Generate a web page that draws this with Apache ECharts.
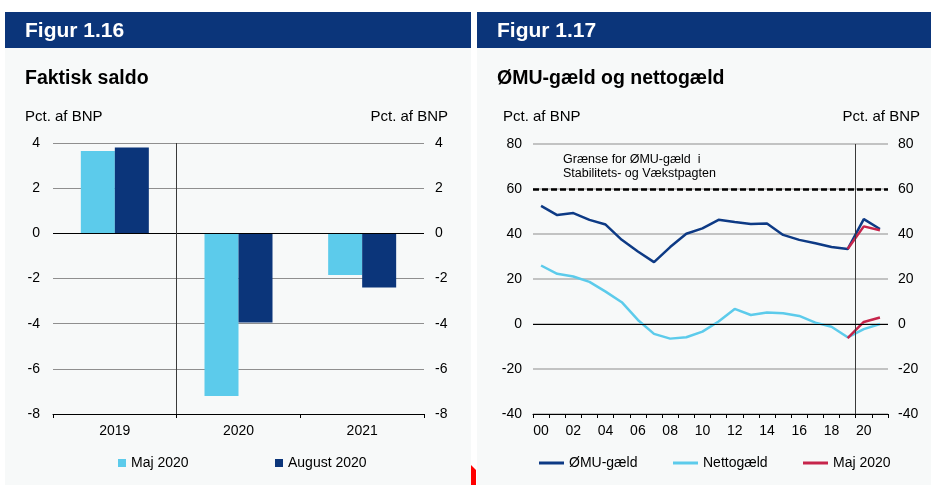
<!DOCTYPE html>
<html><head><meta charset="utf-8">
<script src="https://cdn.jsdelivr.net/npm/echarts@6/dist/echarts.min.js"></script>
<style>html,body{margin:0;padding:0;background:#fff}#c{width:931px;height:485px}</style>
</head><body><div id="c"></div>
<script>
// ---- Figur 1.16 data ----
const saldoYears = ['2019', '2020', '2021'];
const saldoMaj = [3.65, -7.2, -1.84];
const saldoAug = [3.8, -3.95, -2.4];
const saldoTicks = { min: -8, max: 4, interval: 2 };

// ---- Figur 1.17 data ----
const years = ['00','01','02','03','04','05','06','07','08','09','10','11','12','13','14','15','16','17','18','19','20','21'];
const omuDebt = [52.5,48.4,49.3,46.3,44.2,37.4,32.2,27.5,34.2,40.1,42.5,46.3,45.3,44.4,44.7,39.6,37.4,35.9,34.2,33.3,46.6,42.2];
const netDebt = [26.0,22.3,21.1,18.7,14.4,9.7,1.8,-4.4,-6.5,-5.9,-3.4,1.1,6.7,4.0,5.1,4.8,3.6,0.6,-1.2,-5.9,-2.3,0.0];
const majOmu = [null,null,null,null,null,null,null,null,null,null,null,null,null,null,null,null,null,null,null,33.3,43.4,41.7];
const majNet = [null,null,null,null,null,null,null,null,null,null,null,null,null,null,null,null,null,null,null,-6.3,0.9,2.9];
const debtTicks = { min: -40, max: 80, interval: 20 };
const omuLimit = 60;

const FONT = "'Liberation Sans', Arial, sans-serif";
const DARK = '#0b357a';
const LIGHT = '#5ccbeb';
const RED = '#c6254b';
const BG = '#f7f9f9';

const chart = echarts.init(document.getElementById('c'), null, { renderer: 'canvas' });

function yAx(grid, pos, t, showSplit, splitColor, splitWidth, margin) {
  return {
    type: 'value', gridIndex: grid, position: pos, min: t.min, max: t.max, interval: t.interval,
    axisLine: { show: false }, axisTick: { show: false },
    axisLabel: { color: '#000', fontSize: 14, fontFamily: FONT, margin: margin },
    splitLine: { show: showSplit, lineStyle: { color: splitColor, width: splitWidth } }
  };
}

const txt = (x, y, s, size, weight, color, align) => ({
  type: 'text', x: x, y: y, z: 5,
  style: { text: s, fontSize: size, fontWeight: weight || 'normal', fill: color || '#000', fontFamily: FONT, textAlign: align || 'left', textVerticalAlign: 'middle' }
});

function leg(left, name, w, h) {
  return { left: left, top: 456, padding: 0, itemWidth: w, itemHeight: h, icon: 'rect',
    textStyle: { fontSize: 14, color: '#000', fontFamily: FONT }, data: [name] };
}

chart.setOption({
  animation: false,
  textStyle: { fontFamily: FONT },
  graphic: [
    { type: 'rect', z: -10, shape: { x: 5, y: 48, width: 466, height: 437 }, style: { fill: BG } },
    { type: 'rect', z: -10, shape: { x: 477, y: 48, width: 454, height: 437 }, style: { fill: BG } },
    { type: 'rect', z: -10, shape: { x: 5, y: 12, width: 466, height: 36 }, style: { fill: DARK } },
    { type: 'rect', z: -10, shape: { x: 477, y: 12, width: 454, height: 36 }, style: { fill: DARK } },
    { type: 'polygon', z: -10, shape: { points: [[471, 465], [476, 470], [476, 485], [471, 485]] }, style: { fill: '#ff0000' } },
    txt(25, 31, 'Figur 1.16', 21, 'bold', '#fff'),
    txt(497, 31, 'Figur 1.17', 21, 'bold', '#fff'),
    txt(25, 79, 'Faktisk saldo', 19.5, 'bold'),
    txt(497, 79, 'ØMU-gæld og nettogæld', 19.5, 'bold'),
    txt(25, 117, 'Pct. af BNP', 15),
    txt(448, 117, 'Pct. af BNP', 15, 'normal', '#000', 'right'),
    txt(503, 117, 'Pct. af BNP', 15),
    txt(920, 117, 'Pct. af BNP', 15, 'normal', '#000', 'right'),
    txt(563, 160, 'Grænse for ØMU-gæld  i', 12.5),
    txt(563, 174, 'Stabilitets- og Vækstpagten', 12.5)
  ],
  grid: [
    { left: 53, top: 143, width: 371, height: 271 },
    { left: 533, top: 144, width: 355, height: 270 }
  ],
  legend: [
    leg(118, 'Maj 2020 ', 8, 8),
    leg(275, 'August 2020', 8, 8),
    leg(539, 'ØMU-gæld', 25, 3),
    leg(673, 'Nettogæld', 25, 3),
    leg(803, 'Maj 2020', 25, 3)
  ],
  xAxis: [
    { type: 'category', gridIndex: 0, data: saldoYears, position: 'bottom',
      axisLine: { onZero: false, lineStyle: { color: '#000', width: 1 } },
      axisTick: { show: true, length: 4, inside: false, lineStyle: { color: '#000' } },
      axisLabel: { color: '#000', fontSize: 14, fontFamily: FONT, margin: 10 },
      splitLine: { show: false } },
    { type: 'value', gridIndex: 0, min: -0.5, max: 2.5, show: false },
    { type: 'category', gridIndex: 1, data: years, position: 'bottom',
      axisLine: { onZero: false, lineStyle: { color: '#000', width: 1 } },
      axisTick: { show: true, interval: 0, length: 4, lineStyle: { color: '#000' } },
      axisLabel: { interval: 1, color: '#000', fontSize: 14, fontFamily: FONT, margin: 10 },
      splitLine: { show: false } },
    { type: 'value', gridIndex: 1, min: -0.5, max: 21.5, show: false }
  ],
  yAxis: [
    yAx(0, 'left', saldoTicks, true, '#8f8f8f', 1, 13),
    yAx(0, 'right', saldoTicks, false, '#8f8f8f', 1, 11),
    yAx(1, 'left', debtTicks, true, '#b0b0b0', 1.5, 11),
    yAx(1, 'right', debtTicks, false, '#b0b0b0', 1.5, 10)
  ],
  series: [
    { name: 'Maj 2020 ', type: 'bar', xAxisIndex: 0, yAxisIndex: 0, data: saldoMaj, barWidth: 34, barGap: '0%',
      itemStyle: { color: LIGHT },
      markLine: { silent: true, symbol: 'none', label: { show: false },
        lineStyle: { color: '#000', width: 1, type: 'solid' }, data: [{ yAxis: 0 }] } },
    { name: 'August 2020', type: 'bar', xAxisIndex: 0, yAxisIndex: 0, data: saldoAug, barWidth: 34, barGap: '0%',
      itemStyle: { color: DARK } },
    { name: 'divider1', type: 'line', xAxisIndex: 1, yAxisIndex: 0, data: [],
      markLine: { silent: true, symbol: 'none', label: { show: false },
        lineStyle: { color: '#3a3a3a', width: 1, type: 'solid' }, data: [{ xAxis: 0.5 }] } },
    { name: 'divider2', type: 'line', xAxisIndex: 3, yAxisIndex: 2, data: [],
      markLine: { silent: true, symbol: 'none', label: { show: false },
        lineStyle: { color: '#3a3a3a', width: 1, type: 'solid' }, data: [{ xAxis: 19.5 }] } },
    { name: 'ØMU-gæld', type: 'line', xAxisIndex: 2, yAxisIndex: 2, data: omuDebt, symbol: 'none',
      lineStyle: { color: '#0d3a85', width: 2.5 }, itemStyle: { color: '#0d3a85' }, z: 3,
      markLine: { silent: true, symbol: 'none', label: { show: false },
        lineStyle: { color: '#000', width: 1, type: 'solid' }, data: [{ yAxis: 0 }] } },
    { name: 'Nettogæld', type: 'line', xAxisIndex: 2, yAxisIndex: 2, data: netDebt, symbol: 'none',
      lineStyle: { color: LIGHT, width: 2.5 }, itemStyle: { color: LIGHT }, z: 3 },
    { name: 'Maj 2020', type: 'line', xAxisIndex: 2, yAxisIndex: 2, data: majOmu, symbol: 'none',
      lineStyle: { color: RED, width: 2.5 }, itemStyle: { color: RED }, z: 4,
      markLine: { silent: true, symbol: 'none', label: { show: false },
        lineStyle: { color: '#000', width: 2.5, type: [6, 3] }, data: [{ yAxis: omuLimit }] } },
    { name: 'Maj 2020', type: 'line', xAxisIndex: 2, yAxisIndex: 2, data: majNet, symbol: 'none',
      lineStyle: { color: RED, width: 2.5 }, itemStyle: { color: RED }, z: 4 }
  ]
});
</script></body></html>
